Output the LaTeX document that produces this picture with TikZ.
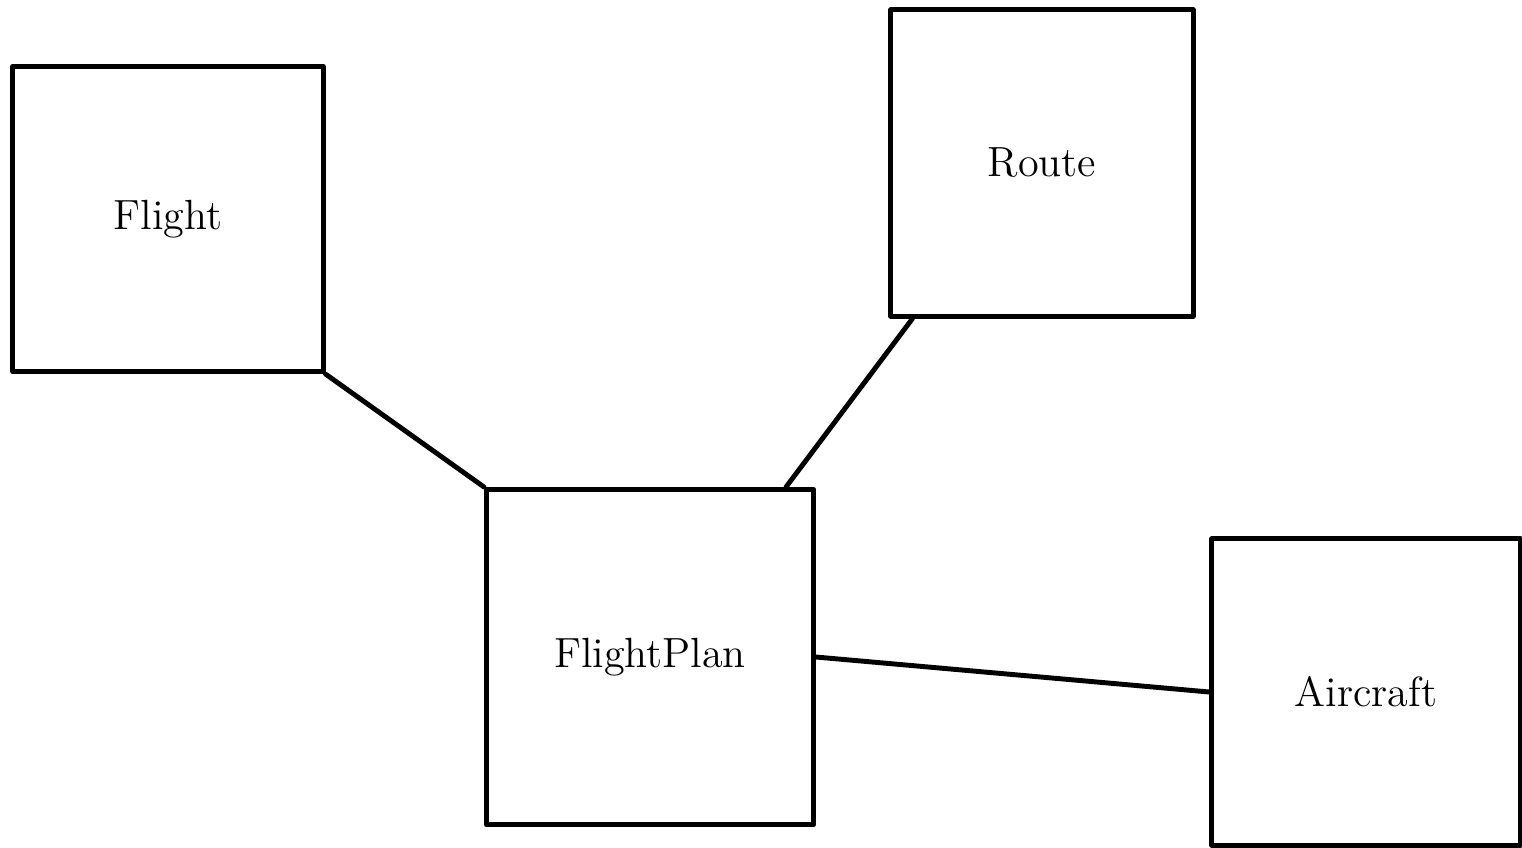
\documentclass[tikz,border=0pt]{standalone}
\begin{document}
\begin{tikzpicture}[line cap=round,line join=round,x=0.01cm,y=-0.01cm]
\useasboundingbox (0,0) rectangle (1522,847);
\tikzset{box/.style={draw,line width=1.4pt,inner sep=0pt,minimum width=3.1cm,minimum height=3.05cm,font=\large}}
\node [box] (flight) at (168,219) {Flight};
\node [box,minimum width=3.02cm,minimum height=3.06cm] (route) at (1042,163) {Route};
\node [box,minimum width=3.27cm,minimum height=3.35cm] (plan) at (650,657) {FlightPlan};
\node [box,minimum width=3.08cm,minimum height=3.06cm] (craft) at (1366,692) {Aircraft};
\draw [line width=1.4pt] (flight.south east) -- (plan.north west);
\draw [line width=1.4pt] ([xshift=0.24cm]route.south west) -- ([xshift=-0.3cm]plan.north east);
\draw [line width=1.4pt] (plan.east) -- (craft.west);
\end{tikzpicture}
\end{document}
